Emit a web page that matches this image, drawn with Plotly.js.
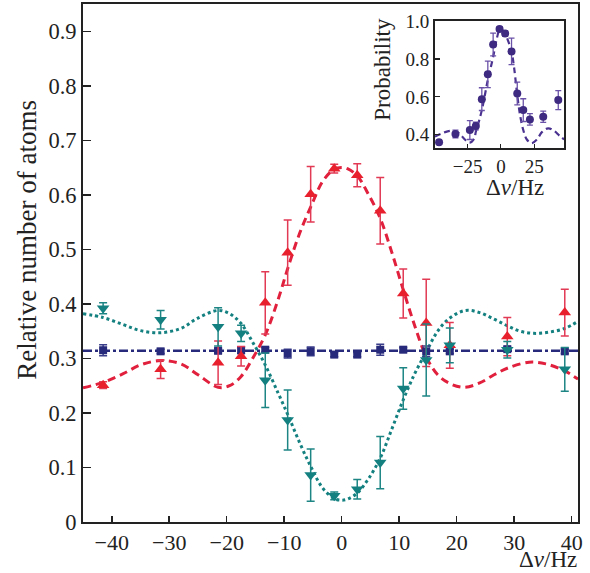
<!DOCTYPE html>
<html>
<head>
<meta charset="utf-8">
<script src="https://cdn.plot.ly/plotly-3.0.1.min.js"></script>
<style>html,body{margin:0;padding:0;background:#fff;}#chart{width:590px;height:573px;}</style>
</head>
<body>
<div id="chart"></div>
<script>
// ---- main panel data ----
const detuning = [-41.5, -31.5, -21.5, -17.5, -13.3, -9.4, -5.4, -1.3, 2.7, 6.7, 10.7, 14.7, 18.8, 28.8, 38.8];
const redVals  = [0.251, 0.280, 0.292, 0.304, 0.402, 0.494, 0.601, 0.648, 0.636, 0.571, 0.419, 0.365, 0.324, 0.340, 0.384];
const redErr   = [0.006, 0.017, 0.040, 0.018, 0.057, 0.060, 0.051, 0.008, 0.021, 0.061, 0.045, 0.080, 0.042, 0.035, 0.043];
const tealVals = [0.392, 0.371, 0.358, 0.346, 0.260, 0.187, 0.086, 0.048, 0.060, 0.109, 0.245, 0.297, 0.324, 0.316, 0.280];
const tealErr  = [0.010, 0.017, 0.035, 0.015, 0.050, 0.055, 0.048, 0.007, 0.018, 0.048, 0.038, 0.066, 0.032, 0.015, 0.040];
const blueVals = [0.315, 0.313, 0.314, 0.315, 0.316, 0.309, 0.313, 0.307, 0.307, 0.316, 0.316, 0.313, 0.313, 0.317, 0.313];
const blueErr  = [0.010, 0.004, 0.004, 0.006, 0.004, 0.008, 0.008, 0.004, 0.004, 0.010, 0.004, 0.010, 0.004, 0.004, 0.004];

// fitted curves
const redFitX  = [-45, -41.5, -38, -35, -31.5, -28, -25, -21.5, -19.5, -17.5, -15.5, -13.3, -11, -9.3, -7.3, -5.3, -3.3, -1.3, 0, 1, 2.7, 4.7, 6.7, 8.7, 10.7, 12.7, 14.7, 16.7, 18.8, 21.3, 24, 26.5, 28.8, 32.6, 35.5, 38.8, 41.1];
const redFitY  = [0.246, 0.256, 0.272, 0.288, 0.296, 0.290, 0.270, 0.247, 0.250, 0.267, 0.300, 0.343, 0.410, 0.468, 0.530, 0.580, 0.625, 0.647, 0.650, 0.648, 0.635, 0.600, 0.557, 0.495, 0.426, 0.360, 0.303, 0.270, 0.254, 0.247, 0.255, 0.270, 0.282, 0.293, 0.290, 0.277, 0.262];
const tealFitX = [-45, -41.5, -38, -35, -31.5, -28, -25, -21.5, -19.5, -17.5, -15.5, -13.3, -11, -9.3, -7.3, -5.3, -3.3, -1.3, 0, 1, 2.7, 4.7, 6.7, 8.7, 10.7, 12.7, 14.7, 16.7, 18.8, 21.5, 24, 26.5, 28.8, 31, 33.4, 36, 38.8, 41.1];
const tealFitY = [0.382, 0.375, 0.362, 0.351, 0.347, 0.355, 0.374, 0.388, 0.382, 0.364, 0.330, 0.288, 0.235, 0.195, 0.145, 0.100, 0.062, 0.043, 0.040, 0.042, 0.053, 0.080, 0.117, 0.170, 0.224, 0.272, 0.312, 0.350, 0.374, 0.388, 0.384, 0.372, 0.360, 0.350, 0.346, 0.348, 0.355, 0.368];
const blueFitX = [-45, 41.1];
const blueFitY = [0.314, 0.314];

// ---- inset data ----
const insetX   = [-46.4, -34.1, -23.3, -18.8, -14.3, -9.8, -5.8, -1.0, 3.2, 8.0, 12.3, 16.8, 21.8, 31.8, 43.1];
const insetY   = [0.360, 0.404, 0.425, 0.446, 0.588, 0.719, 0.876, 0.958, 0.934, 0.840, 0.618, 0.530, 0.481, 0.495, 0.583];
const insetErr = [0.010, 0.020, 0.050, 0.020, 0.060, 0.070, 0.060, 0.012, 0.015, 0.070, 0.060, 0.060, 0.030, 0.030, 0.050];
const insetFitX = [-49.5, -45, -40, -35, -31, -27, -23.5, -20, -18.8, -16.5, -14.3, -12, -9.8, -7.8, -5.8, -3.3, -1, 1.5, 4, 6, 8, 10, 12.3, 14.5, 16.8, 19.5, 23, 27, 31, 35.5, 40, 44, 47.5];
const insetFitY = [0.390, 0.405, 0.418, 0.420, 0.405, 0.375, 0.358, 0.380, 0.416, 0.470, 0.530, 0.610, 0.690, 0.750, 0.810, 0.900, 0.950, 0.950, 0.920, 0.885, 0.840, 0.750, 0.610, 0.500, 0.425, 0.375, 0.355, 0.375, 0.415, 0.434, 0.420, 0.395, 0.376];

const FONT = 'Liberation Serif, Times New Roman, serif';
const RED = '#e8202e', TEAL = '#148080', NAVY = '#27297a', PURP = '#3e2a80';

const traces = [
  {x: redFitX, y: redFitY, mode: 'lines', line: {color: '#e0203c', width: 3, dash: '8px,5px', shape: 'spline'}, hoverinfo: 'skip'},
  {x: tealFitX, y: tealFitY, mode: 'lines', line: {color: TEAL, width: 3, dash: 'dot', shape: 'spline'}, hoverinfo: 'skip'},
  {x: blueFitX, y: blueFitY, mode: 'lines', line: {color: NAVY, width: 2.5, dash: 'dashdot'}, hoverinfo: 'skip'},
  {x: detuning, y: blueVals, mode: 'markers', marker: {symbol: 'square', size: 8, color: NAVY},
   error_y: {type: 'data', array: blueErr, color: '#3a3d8a', thickness: 1.5, width: 4}},
  {x: detuning, y: redVals, mode: 'markers', marker: {symbol: 'triangle-up', size: 11, color: RED},
   error_y: {type: 'data', array: redErr, color: '#e23a55', thickness: 1.5, width: 4}},
  {x: detuning, y: tealVals, mode: 'markers', marker: {symbol: 'triangle-down', size: 11, color: TEAL},
   error_y: {type: 'data', array: tealErr, color: '#1e8585', thickness: 1.5, width: 4}},
  {x: insetFitX, y: insetFitY, xaxis: 'x2', yaxis: 'y2', mode: 'lines', line: {color: '#4a3290', width: 2.2, dash: '6px,4px', shape: 'spline'}, hoverinfo: 'skip'},
  {x: insetX, y: insetY, xaxis: 'x2', yaxis: 'y2', mode: 'markers', marker: {symbol: 'circle', size: 8, color: PURP},
   error_y: {type: 'data', array: insetErr, color: '#6a52a8', thickness: 1.3, width: 3}}
];

const axisCommon = {showline: true, mirror: true, linecolor: '#222', linewidth: 2, ticks: 'inside',
  tickcolor: '#222', showgrid: false, zeroline: false};

const layout = {
  width: 590, height: 573,
  margin: {l: 83, r: 12, t: 4, b: 51},
  paper_bgcolor: '#fff', plot_bgcolor: '#fff',
  showlegend: false,
  font: {family: FONT, size: 22, color: '#222'},
  xaxis: Object.assign({}, axisCommon, {range: [-45, 41.1], domain: [0, 1], tick0: 0, dtick: 10, ticklen: 6, tickwidth: 1.5, tickfont: {size: 22}}),
  yaxis: Object.assign({}, axisCommon, {range: [0, 0.95], domain: [0, 1], tick0: 0, dtick: 0.1, ticklen: 8, tickwidth: 1.5, tickfont: {size: 22.5}}),
  xaxis2: Object.assign({}, axisCommon, {anchor: 'y2', domain: [0.711, 0.972], range: [-49.5, 47.5], tickvals: [-25, 0, 25], ticklen: 4, tickwidth: 1.2, linewidth: 1.8, tickfont: {size: 19}}),
  yaxis2: Object.assign({}, axisCommon, {anchor: 'x2', domain: [0.722, 0.967], range: [0.33, 1.0], tickvals: [0.4, 0.6, 0.8, 1.0], ticktext: ['0.4', '0.6', '0.8', '1.0'], ticklen: 5, tickwidth: 1.2, linewidth: 1.8, tickfont: {size: 19}}),
  annotations: [
    {text: 'Relative number of atoms', xref: 'paper', yref: 'paper', x: -0.112, y: 0.544, textangle: -90,
     showarrow: false, font: {size: 27}, xanchor: 'center', yanchor: 'middle'},
    {text: 'Δ<i>ν</i>/Hz', xref: 'paper', yref: 'paper', x: 1.0, y: -0.0975, showarrow: false,
     font: {size: 23}, xanchor: 'right', yanchor: 'bottom', borderpad: 0},
    {text: 'Δ<i>ν</i>/Hz', xref: 'paper', yref: 'paper', x: 0.873, y: 0.645, showarrow: false,
     font: {size: 23}, xanchor: 'center', yanchor: 'middle'},
    {text: 'Probability', xref: 'paper', yref: 'paper', x: 0.606, y: 0.875, textangle: -90, showarrow: false,
     font: {size: 23}, xanchor: 'center', yanchor: 'middle'}
  ]
};

Plotly.newPlot('chart', traces, layout, {staticPlot: true, displayModeBar: false});
</script>
</body>
</html>
